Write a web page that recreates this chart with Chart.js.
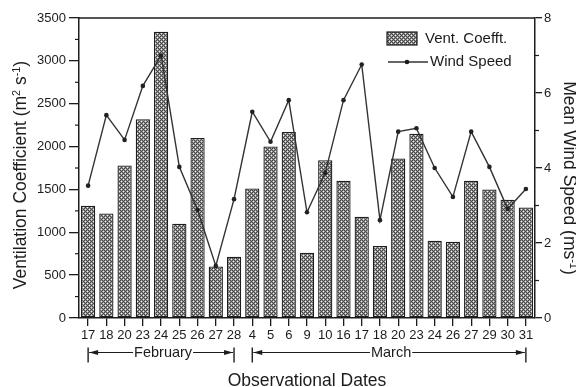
<!DOCTYPE html>
<html>
<head>
<meta charset="utf-8">
<title>Ventilation Coefficient and Mean Wind Speed</title>
<script src="https://cdn.jsdelivr.net/npm/chart.js@4.4.0/dist/chart.umd.min.js"></script>
<style>
  html, body { margin: 0; padding: 0; background: #ffffff; }
  #wrap { width: 576px; height: 387px; position: relative; }
</style>
</head>
<body>
<div id="wrap"><canvas id="c" width="576" height="387"></canvas></div>
<script>
// Observation days (February then March)
const dates = ['17','18','20','23','24','25','26','27','28',
               '4','5','6','9','10','16','17','18','20','23','24','26','27','29','30','31'];

// Ventilation coefficient, m2 s-1
const ventCoeff = [1310, 1220, 1780, 2320, 3340, 1100, 2100, 600, 715,
                   1510, 2000, 2170, 760, 1840, 1600, 1180, 840, 1860, 2150, 900, 890, 1600, 1500, 1380, 1290];

// Mean wind speed, m s-1
const windSpeed = [3.53, 5.41, 4.75, 6.19, 7.0, 4.03, 2.88, 1.39, 3.17,
                   5.50, 4.70, 5.81, 2.82, 3.87, 5.81, 6.76, 2.61, 4.97, 5.06, 4.00, 3.23, 4.97, 4.03, 2.91, 3.44];

// Axis tick values
const ventTicks = [0, 500, 1000, 1500, 2000, 2500, 3000, 3500];
const windTicks = [0, 2, 4, 6, 8];

// Month brackets under the date labels (first and last index of each month)
const monthNames = ['February', 'March'];
const monthFirst = [0, 9];
const monthLast  = [8, 24];

const FONT = '"Liberation Sans", Arial, Helvetica, sans-serif';
const INK = '#1c1c1c';

const canvas = document.getElementById('c');
const ctx = canvas.getContext('2d');

// Dotted cross-hatch fill used for the bars (4x4 pixel tile, two soft dots)
function makeHatch(c) {
  const t = document.createElement('canvas');
  t.width = 4; t.height = 4;
  const g = t.getContext('2d');
  const img = g.createImageData(4, 4);
  const shade = [
    [ 70, 150,  70, 150],
    [150, 240, 150,  70],
    [ 70, 150,  70, 150],
    [150,  70, 150, 240]
  ];
  for (let yy = 0; yy < 4; yy++) {
    for (let xx = 0; xx < 4; xx++) {
      const k = (yy * 4 + xx) * 4;
      const v = shade[yy][xx];
      img.data[k] = v; img.data[k + 1] = v; img.data[k + 2] = v; img.data[k + 3] = 255;
    }
  }
  g.putImageData(img, 0, 0);
  return c.createPattern(t, 'repeat');
}
const hatch = makeHatch(ctx);

// Text with superscript parts: parts = [[text, isSup], ...]
function richWidth(c, parts, size) {
  let w = 0;
  for (const [t, sup] of parts) {
    c.font = `${sup ? size * 0.62 : size}px ${FONT}`;
    w += c.measureText(t).width;
  }
  return w;
}
function drawRich(c, parts, x, y, size) {
  let cx = x;
  for (const [t, sup] of parts) {
    c.font = `${sup ? size * 0.62 : size}px ${FONT}`;
    c.fillText(t, cx, sup ? y - size * 0.36 : y);
    cx += c.measureText(t).width;
  }
}

const leftTitle  = [['Ventilation Coefficient (m', false], ['2', true], [' s', false], ['-1', true], [')', false]];
const rightTitle = [['Mean Wind Speed (ms', false], ['-1', true], [')', false]];
const bottomTitle = 'Observational Dates';
const legendBars = 'Vent. Coefft.';
const legendLine = 'Wind Speed';

function seg(c, x0, y0, x1, y1) {
  c.beginPath(); c.moveTo(x0, y0); c.lineTo(x1, y1); c.stroke();
}

const decor = {
  id: 'decor',
  afterDraw(chart) {
    const c = chart.ctx;
    const a = chart.chartArea;
    const { x, y, y1 } = chart.scales;
    c.save();
    c.strokeStyle = INK;
    c.fillStyle = INK;
    c.lineWidth = 1.5;

    // top frame line
    seg(c, a.left, a.top, a.right, a.top);

    // minor ticks
    c.lineWidth = 1.2;
    for (let i = 0; i < ventTicks.length - 1; i++) {
      const py = y.getPixelForValue((ventTicks[i] + ventTicks[i + 1]) / 2);
      seg(c, a.left - 4, py, a.left, py);
    }
    for (let i = 0; i < windTicks.length - 1; i++) {
      const py = y1.getPixelForValue((windTicks[i] + windTicks[i + 1]) / 2);
      seg(c, a.right, py, a.right + 4, py);
    }

    // month brackets
    const by = 352.5;
    c.font = `14.5px ${FONT}`;
    c.textBaseline = 'alphabetic';
    c.textAlign = 'left';
    monthNames.forEach((name, i) => {
      const x0 = x.getPixelForValue(monthFirst[i]);
      const x1 = x.getPixelForValue(monthLast[i]);
      const w = c.measureText(name).width;
      const tx = (x0 + x1) / 2 + 2 - w / 2;
      c.lineWidth = 1.4;
      seg(c, x0, by - 5, x0, by + 10);
      seg(c, x1, by - 5, x1, by + 10);
      c.lineWidth = 1.1;
      seg(c, x0 + 1, by, tx - 1, by);
      seg(c, tx + w + 1, by, x1 - 1, by);
      // arrow heads
      c.beginPath(); c.moveTo(x0 + 1, by); c.lineTo(x0 + 10, by - 2.6); c.lineTo(x0 + 10, by + 2.6); c.closePath(); c.fill();
      c.beginPath(); c.moveTo(x1 - 1, by); c.lineTo(x1 - 10, by - 2.6); c.lineTo(x1 - 10, by + 2.6); c.closePath(); c.fill();
      c.fillText(name, tx, by + 4.8);
    });

    // legend
    const lx = a.right - 148, ly = a.top + 14;
    c.fillStyle = hatch;
    c.fillRect(lx, ly, 30, 13);
    c.lineWidth = 1.2;
    c.strokeRect(lx, ly, 30, 13);
    c.fillStyle = INK;
    c.font = `15px ${FONT}`;
    c.textBaseline = 'middle';
    c.fillText(legendBars, lx + 38, ly + 7);
    c.strokeStyle = '#333';
    c.lineWidth = 1.3;
    seg(c, lx + 1, ly + 30, lx + 41, ly + 30);
    c.beginPath(); c.arc(lx + 20, ly + 30, 2.3, 0, Math.PI * 2); c.fill();
    c.fillText(legendLine, lx + 43, ly + 30);

    // axis titles
    const ts = 17.5;
    c.textBaseline = 'alphabetic';
    c.save();
    c.translate(26, 175);
    c.rotate(-Math.PI / 2);
    drawRich(c, leftTitle, -richWidth(c, leftTitle, ts) / 2, 0, ts);
    c.restore();

    c.save();
    c.translate(563.5, 178);
    c.rotate(Math.PI / 2);
    drawRich(c, rightTitle, -richWidth(c, rightTitle, ts) / 2, 0, ts);
    c.restore();

    c.font = `${ts}px ${FONT}`;
    c.textAlign = 'center';
    c.fillText(bottomTitle, (a.left + a.right) / 2, 385.5);

    c.restore();
  }
};

const tickFont = { family: FONT, size: 13 };

new Chart(ctx, {
  data: {
    labels: dates,
    datasets: [
      {
        type: 'line',
        label: legendLine,
        data: windSpeed,
        yAxisID: 'y1',
        borderColor: '#333333',
        borderWidth: 1.4,
        pointRadius: 2.3,
        pointBackgroundColor: '#222',
        pointBorderWidth: 0,
        tension: 0,
        order: 0
      },
      {
        type: 'bar',
        label: legendBars,
        data: ventCoeff,
        yAxisID: 'y',
        backgroundColor: hatch,
        borderColor: '#1e1e1e',
        borderWidth: 1.3,
        borderSkipped: false,
        barPercentage: 0.78,
        categoryPercentage: 1,
        order: 1
      }
    ]
  },
  options: {
    responsive: false,
    animation: false,
    devicePixelRatio: 1,
    layout: { padding: { top: 18, left: 0, right: 0, bottom: 0 } },
    plugins: { legend: { display: false }, tooltip: { enabled: false } },
    scales: {
      x: {
        grid: { display: true, drawOnChartArea: false, drawTicks: true, tickLength: 8, offset: false, color: INK, lineWidth: 1.3 },
        border: { display: true, color: INK, width: 1.5 },
        ticks: { color: INK, font: tickFont, padding: 2, maxRotation: 0, autoSkip: false },
        afterFit(s) { s.height = 69; }
      },
      y: {
        position: 'left',
        min: 0, max: 3500,
        afterBuildTicks(s) { s.ticks = ventTicks.map(v => ({ value: v })); },
        grid: { display: true, drawOnChartArea: false, drawTicks: true, tickLength: 10, color: INK, lineWidth: 1.3 },
        border: { display: true, color: INK, width: 1.5 },
        ticks: { color: INK, font: tickFont, padding: 3, callback: v => String(v) },
        afterFit(s) { s.width = 79; }
      },
      y1: {
        position: 'right',
        min: 0, max: 8,
        afterBuildTicks(s) { s.ticks = windTicks.map(v => ({ value: v })); },
        grid: { display: true, drawOnChartArea: false, drawTicks: true, tickLength: 7, color: INK, lineWidth: 1.3 },
        border: { display: true, color: INK, width: 1.5 },
        ticks: { color: INK, font: tickFont, padding: 2, callback: v => String(v) },
        afterFit(s) { s.width = 41; }
      }
    }
  },
  plugins: [decor]
});
</script>
</body>
</html>
